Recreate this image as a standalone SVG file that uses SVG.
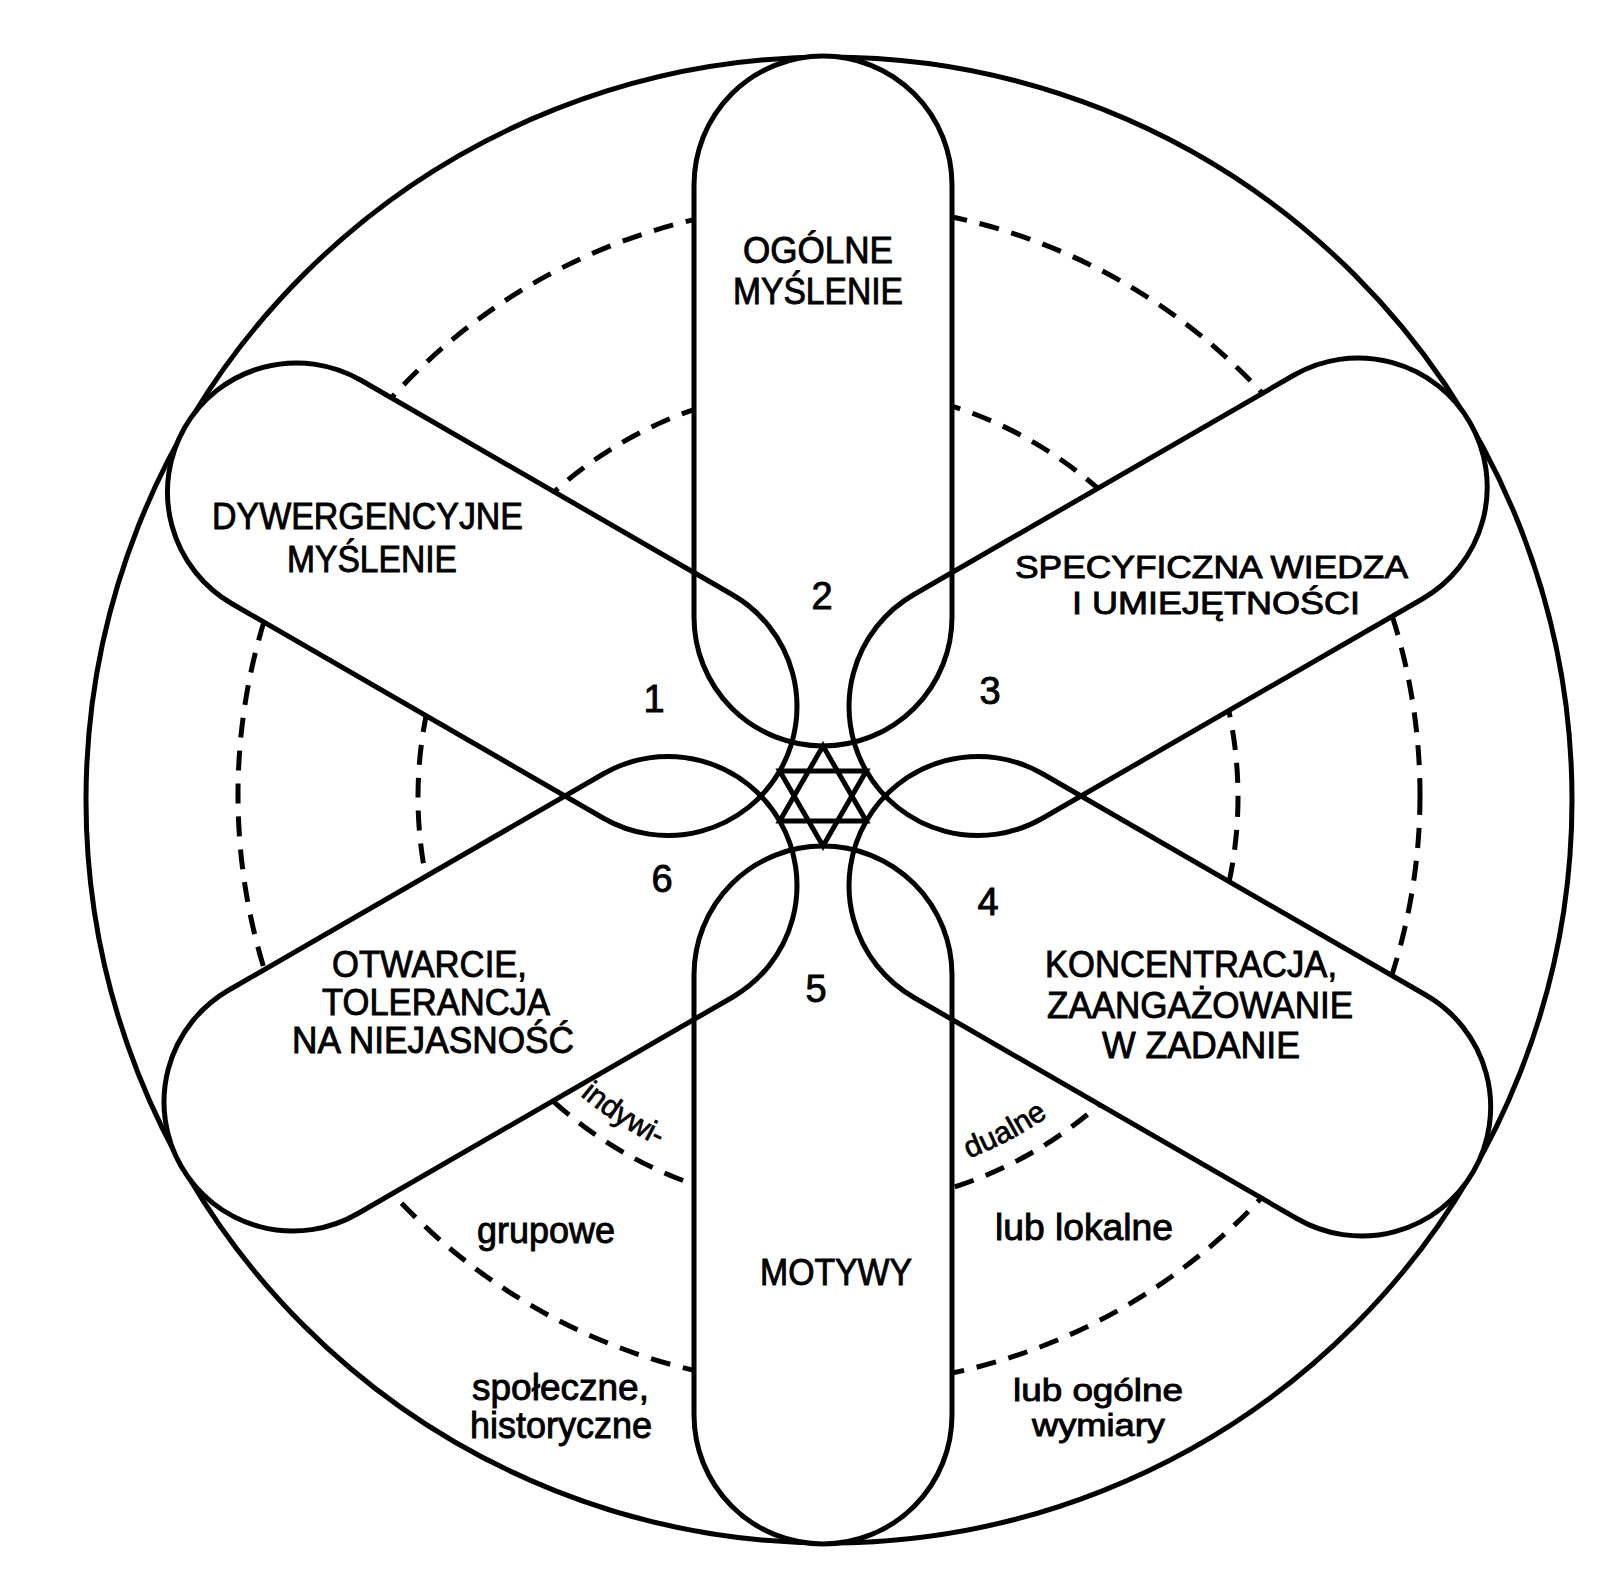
<svg xmlns="http://www.w3.org/2000/svg" width="1614" height="1592" viewBox="0 0 1614 1592">
<style>
.ln{fill:none;stroke:#000;stroke-width:5}
.dash{fill:none;stroke:#000;stroke-width:5;stroke-dasharray:20 13}
.pf{fill:#fff;stroke:none}
.po{fill:none;stroke:#000;stroke-width:5;stroke-linejoin:round}
.lab{font-family:"Liberation Sans",Arial,sans-serif;font-size:36px;fill:#000;stroke:#000;stroke-width:0.9}
.tight{font-size:31px}
.sm{font-family:"Liberation Sans",Arial,sans-serif;font-size:30px;fill:#000;stroke:#000;stroke-width:0.7}
.num{font-family:"Liberation Sans",Arial,sans-serif;font-size:38px;fill:#000;stroke:#000;stroke-width:0.9;text-anchor:middle}
</style>
<defs>
<path id="arcText" d="M 463.4 929.7 A 388 388 0 0 0 1192.6 929.7"/>
</defs>
<rect width="1614" height="1592" fill="#fff"/>
<g id="rings">
<circle class="ln" cx="829" cy="800" r="743"/>
<circle class="dash" cx="829" cy="795" r="591"/>
<circle class="dash" cx="828" cy="797" r="410"/>
</g>
<g id="petal-fills">
<path class="pf" transform="translate(823,796) rotate(0)" d="M -129 -179 L -129 -611 A 129 129 0 0 1 129 -611 L 129 -179 A 129 129 0 0 1 -129 -179 Z"/>
<path class="pf" transform="translate(823,796) rotate(60)" d="M -129 -179 L -129 -618 A 129 129 0 0 1 129 -618 L 129 -179 A 129 129 0 0 1 -129 -179 Z"/>
<path class="pf" transform="translate(823,796) rotate(120)" d="M -129 -179 L -129 -622 A 129 129 0 0 1 129 -622 L 129 -179 A 129 129 0 0 1 -129 -179 Z"/>
<path class="pf" transform="translate(823,796) rotate(180)" d="M -129 -179 L -129 -619 A 129 129 0 0 1 129 -619 L 129 -179 A 129 129 0 0 1 -129 -179 Z"/>
<path class="pf" transform="translate(823,796) rotate(240)" d="M -129 -179 L -129 -612 A 129 129 0 0 1 129 -612 L 129 -179 A 129 129 0 0 1 -129 -179 Z"/>
<path class="pf" transform="translate(823,796) rotate(300)" d="M -129 -179 L -129 -608 A 129 129 0 0 1 129 -608 L 129 -179 A 129 129 0 0 1 -129 -179 Z"/>
</g>
<g id="node-2-ogolne">
<path class="po" transform="translate(823,796) rotate(0)" d="M -129 -179 L -129 -611 A 129 129 0 0 1 129 -611 L 129 -179 A 129 129 0 0 1 -129 -179 Z"/>
<text class="lab" x="743" y="263" textLength="150" lengthAdjust="spacingAndGlyphs">OGÓLNE</text>
<text class="lab" x="733" y="304" textLength="170" lengthAdjust="spacingAndGlyphs">MYŚLENIE</text>
<text class="num" x="822" y="609">2</text>
</g>
<g id="node-3-specyficzna">
<path class="po" transform="translate(823,796) rotate(60)" d="M -129 -179 L -129 -618 A 129 129 0 0 1 129 -618 L 129 -179 A 129 129 0 0 1 -129 -179 Z"/>
<text class="lab tight" x="1015" y="578" textLength="393" lengthAdjust="spacingAndGlyphs">SPECYFICZNA WIEDZA</text>
<text class="lab tight" x="1072" y="614" textLength="288" lengthAdjust="spacingAndGlyphs">I UMIEJĘTNOŚCI</text>
<text class="num" x="990" y="704">3</text>
</g>
<g id="node-4-koncentracja">
<path class="po" transform="translate(823,796) rotate(120)" d="M -129 -179 L -129 -622 A 129 129 0 0 1 129 -622 L 129 -179 A 129 129 0 0 1 -129 -179 Z"/>
<text class="lab" x="1045" y="977" textLength="292" lengthAdjust="spacingAndGlyphs">KONCENTRACJA,</text>
<text class="lab" x="1047" y="1018" textLength="306" lengthAdjust="spacingAndGlyphs">ZAANGAŻOWANIE</text>
<text class="lab" x="1102" y="1058" textLength="198" lengthAdjust="spacingAndGlyphs">W ZADANIE</text>
<text class="num" x="988" y="915">4</text>
</g>
<g id="node-5-motywy">
<path class="po" transform="translate(823,796) rotate(180)" d="M -129 -179 L -129 -619 A 129 129 0 0 1 129 -619 L 129 -179 A 129 129 0 0 1 -129 -179 Z"/>
<text class="lab" x="760" y="1285" textLength="152" lengthAdjust="spacingAndGlyphs">MOTYWY</text>
<text class="num" x="816" y="1002">5</text>
</g>
<g id="node-6-otwarcie">
<path class="po" transform="translate(823,796) rotate(240)" d="M -129 -179 L -129 -612 A 129 129 0 0 1 129 -612 L 129 -179 A 129 129 0 0 1 -129 -179 Z"/>
<text class="lab" x="332" y="977" textLength="195" lengthAdjust="spacingAndGlyphs">OTWARCIE,</text>
<text class="lab" x="322" y="1015" textLength="228" lengthAdjust="spacingAndGlyphs">TOLERANCJA</text>
<text class="lab" x="292" y="1053" textLength="282" lengthAdjust="spacingAndGlyphs">NA NIEJASNOŚĆ</text>
<text class="num" x="662" y="892">6</text>
</g>
<g id="node-1-dywergencyjne">
<path class="po" transform="translate(823,796) rotate(300)" d="M -129 -179 L -129 -608 A 129 129 0 0 1 129 -608 L 129 -179 A 129 129 0 0 1 -129 -179 Z"/>
<text class="lab" x="212" y="529" textLength="311" lengthAdjust="spacingAndGlyphs">DYWERGENCYJNE</text>
<text class="lab" x="287" y="572" textLength="170" lengthAdjust="spacingAndGlyphs">MYŚLENIE</text>
<text class="num" x="654" y="712">1</text>
</g>
<g id="center-star" transform="translate(823,796)">
<polygon class="ln" points="0,-50 -43.3,25 43.3,25"/>
<polygon class="ln" points="0,50 -43.3,-25 43.3,-25"/>
</g>
<g id="dimension-labels">
<text class="sm"><textPath href="#arcText" startOffset="205">indywi-</textPath></text>
<text class="sm"><textPath href="#arcText" startOffset="618">dualne</textPath></text>
<text class="lab" x="477" y="1243" textLength="138" lengthAdjust="spacingAndGlyphs">grupowe</text>
<text class="lab" x="472" y="1400" textLength="177" lengthAdjust="spacingAndGlyphs">społeczne,</text>
<text class="lab" x="470" y="1438" textLength="182" lengthAdjust="spacingAndGlyphs">historyczne</text>
<text class="lab" x="995" y="1240" textLength="178" lengthAdjust="spacingAndGlyphs">lub lokalne</text>
<text class="lab tight" x="1013" y="1401" textLength="170" lengthAdjust="spacingAndGlyphs">lub ogólne</text>
<text class="lab tight" x="1032" y="1436" textLength="133" lengthAdjust="spacingAndGlyphs">wymiary</text>
</g>
</svg>
